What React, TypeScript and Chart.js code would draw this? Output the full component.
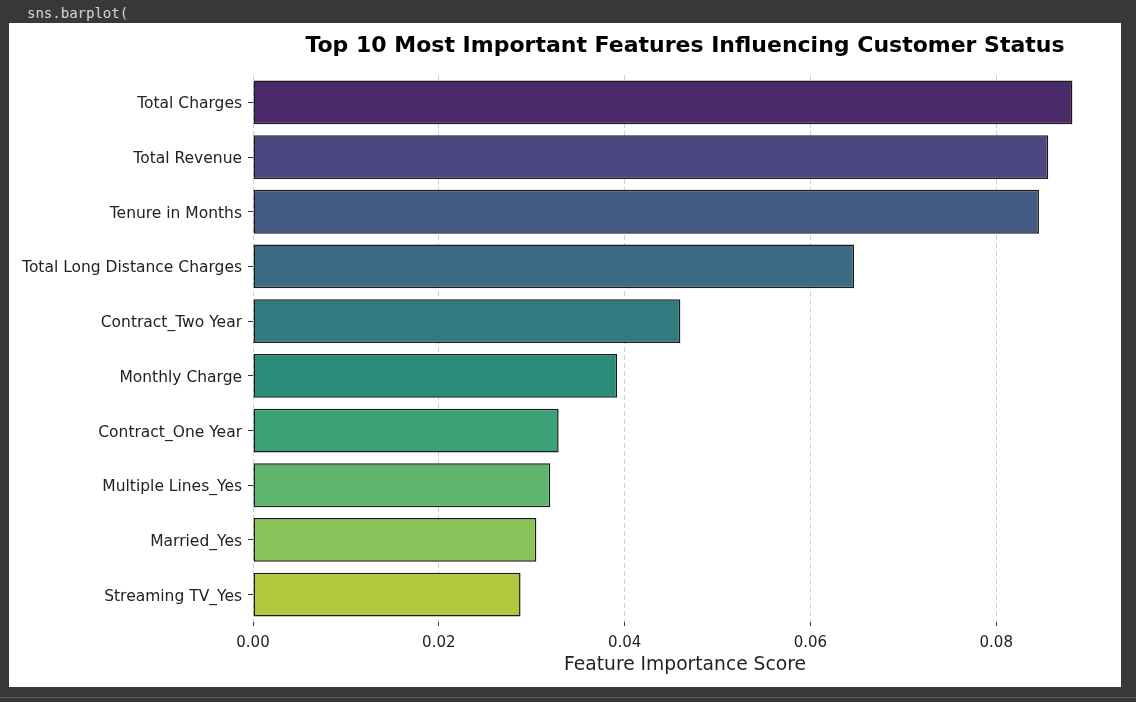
import React, { useEffect, useRef } from "react";
import { Chart, registerables } from "chart.js";

Chart.register(...registerables);

const features = [
  "Total Charges",
  "Total Revenue",
  "Tenure in Months",
  "Total Long Distance Charges",
  "Contract_Two Year",
  "Monthly Charge",
  "Contract_One Year",
  "Multiple Lines_Yes",
  "Married_Yes",
  "Streaming TV_Yes",
];

const importance = [0.0882, 0.0856, 0.0846, 0.0647, 0.046, 0.0392, 0.0329, 0.032, 0.0305, 0.0288];

const barColors = [
  "#4a2a69",
  "#4a4680",
  "#435a83",
  "#3b6b82",
  "#317b80",
  "#2c8c7c",
  "#3ba177",
  "#60b56e",
  "#8bc45c",
  "#b2c93d",
];

const xTicks = [0, 0.02, 0.04, 0.06, 0.08];

const FONT = "'DejaVu Sans', sans-serif";

export default function App() {
  const ref = useRef<HTMLCanvasElement | null>(null);

  useEffect(() => {
    if (!ref.current) return;
    const chart = new Chart(ref.current, {
      type: "bar",
      data: {
        labels: features,
        datasets: [
          {
            data: importance,
            backgroundColor: barColors,
            borderColor: "#1a1a1a",
            borderWidth: 1.5,
            borderSkipped: false,
            categoryPercentage: 0.8,
            barPercentage: 1,
          },
        ],
      },
      options: {
        indexAxis: "y",
        responsive: false,
        animation: false,
        devicePixelRatio: 1,
        layout: { padding: { left: 0, right: 4, top: 0, bottom: 0 } },
        plugins: {
          legend: { display: false },
          tooltip: { enabled: false },
          title: {
            display: true,
            fullSize: false,
            text: "Top 10 Most Important Features Influencing Customer Status",
            color: "#000",
            font: { family: FONT, size: 22, weight: "bold" },
            padding: { top: 9.8, bottom: 15.8 },
          },
        },
        scales: {
          x: {
            type: "linear",
            min: 0,
            max: 0.093,
            z: 1,
            afterBuildTicks: (s: any) => {
              s.ticks = xTicks.map((v) => ({ value: v }));
            },
            afterFit: (s: any) => {
              s.height = 65;
            },
            border: { display: false, dash: [5, 3] },
            grid: {
              color: "rgba(170,170,170,0.55)",
              lineWidth: 1,
              drawTicks: true,
              tickLength: 4,
              tickColor: "#333",
              tickBorderDash: [],
            },
            ticks: {
              color: "#222",
              font: { family: FONT, size: 15 },
              padding: 8,
              callback: (v: any) => Number(v).toFixed(2),
            },
            title: {
              display: true,
              text: "Feature Importance Score",
              color: "#222",
              font: { family: FONT, size: 18.7 },
              padding: { top: 4, bottom: 11 },
            },
          },
          y: {
            type: "category",
            afterFit: (s: any) => {
              s.width = 244;
            },
            border: { display: false },
            grid: {
              offset: false,
              drawOnChartArea: false,
              drawTicks: true,
              tickLength: 5,
              tickColor: "#333",
            },
            ticks: {
              color: "#222",
              font: { family: FONT, size: 15.5 },
              padding: 6,
              labelOffset: 2,
            },
          },
        },
      },
    } as any);
    return () => chart.destroy();
  }, []);

  return (
    <div
      style={{
        position: "fixed",
        left: 0,
        top: 0,
        width: 1136,
        height: 702,
        background: "#383838",
        overflow: "hidden",
      }}
    >
      <div
        style={{
          position: "absolute",
          left: 27,
          top: 4,
          fontFamily: "'DejaVu Sans Mono', monospace",
          fontSize: 14,
          color: "#d4d4d4",
          lineHeight: "18px",
          whiteSpace: "pre",
        }}
      >
        sns.barplot(
      </div>
      <div
        style={{
          position: "absolute",
          left: 9,
          top: 23,
          width: 1112,
          height: 664,
          background: "#fff",
        }}
      >
        <canvas ref={ref} width={1112} height={664} style={{ display: "block" }} />
      </div>
      <div
        style={{
          position: "absolute",
          left: 0,
          top: 697,
          width: 1136,
          height: 1,
          background: "#5a5a5a",
        }}
      />
    </div>
  );
}
